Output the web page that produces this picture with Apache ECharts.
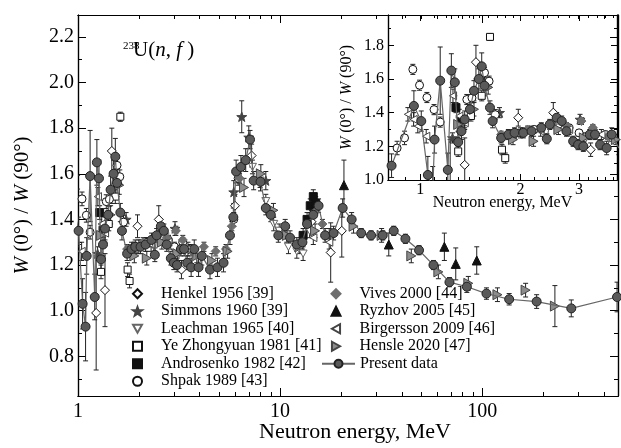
<!DOCTYPE html>
<html lang="en">
<head>
<meta charset="UTF-8" />
<title>238U(n,f) W(0)/W(90)</title>
<script src="https://cdn.jsdelivr.net/npm/echarts@6.0.0/dist/echarts.min.js"></script>
<style>
  html, body { margin: 0; padding: 0; background: #fff; }
  #chart { width: 621px; height: 448px; }
</style>
</head>
<body>
<div id="chart"></div>
<script>
// every row: [neutron energy (MeV), W(0)/W(90), error]
const henkel = [[1.23,0.99,0.25],[1.36,1.09,0.16],[1.47,1.70,0.10],[1.97,1.37,0.05],[2.51,1.40,0.06],[3.25,1.18,0.04],[5.98,1.46,0.05],[7.23,1.68,0.05],[14.3,1.39,0.05],[17.8,1.255,0.13],[20.2,1.35,0.115]]
const simmons = [[1.25,1.25,0.03],[1.73,1.40,0.03],[3.02,1.36,0.03],[5.9,1.52,0.05],[6.46,1.85,0.07],[7.0,1.76,0.05],[8.5,1.57,0.04]]
const leachman = [[7.3,1.63,0.03],[7.96,1.57,0.03],[8.5,1.48,0.03],[9.3,1.38,0.03],[9.9,1.35,0.03],[11.0,1.28,0.03],[12.1,1.26,0.03],[13.0,1.25,0.03],[14.0,1.35,0.03]]
const ye = [[1.30,1.17,0.03],[1.42,1.38,0.03],[1.53,1.50,0.03],[1.62,1.85,0.02],[1.76,1.18,0.03],[1.80,1.13,0.03],[2.0,1.28,0.03]]
const androsenko = [[1.28,1.43,0.03],[1.33,1.35,0.03],[13.0,1.33,0.03],[13.6,1.40,0.03],[14.1,1.46,0.03],[14.6,1.50,0.03],[15.0,1.47,0.03]]
const shpak = [[0.852,1.19,0.04],[0.897,1.25,0.04],[0.95,1.657,0.03],[0.995,1.563,0.03],[1.047,1.49,0.03],[1.10,1.418,0.03],[1.148,1.344,0.03],[1.38,1.478,0.03],[1.43,1.488,0.03],[1.56,1.637,0.03],[1.61,1.587,0.03],[1.68,1.388,0.03],[2.2,1.30,0.02],[2.6,1.33,0.02],[2.8,1.31,0.02],[3.0,1.28,0.02],[3.3,1.30,0.02],[3.6,1.27,0.02],[5.9,1.40,0.03],[6.2,1.58,0.03]]
const vives = [[1.75,1.27,0.02],[2.1,1.30,0.02],[2.5,1.33,0.02],[2.75,1.32,0.02],[3.05,1.35,0.02],[3.3,1.31,0.02],[3.66,1.26,0.02],[4.2,1.28,0.02],[4.8,1.26,0.02],[5.4,1.27,0.02],[5.77,1.37,0.02],[6.3,1.58,0.02],[14.8,1.43,0.02],[16.2,1.38,0.02]]
const ryzhov = [[20.7,1.55,0.11],[34.5,1.29,0.05],[65,1.28,0.06],[74,1.205,0.07],[94,1.22,0.06]]
const birgersson = [[0.918,1.39,0.04],[0.955,1.36,0.04],[0.983,1.32,0.04],[1.042,1.26,0.04],[1.254,1.50,0.04],[1.31,1.38,0.04],[1.36,1.34,0.04],[1.9,1.27,0.03],[2.3,1.29,0.03],[2.8,1.30,0.03],[3.5,1.27,0.03],[14.6,1.32,0.03],[17.5,1.30,0.03]]
const hensle = [[1.3,1.33,0.04],[1.45,1.42,0.04],[1.6,1.55,0.04],[1.9,1.24,0.03],[2.19,1.23,0.03],[2.6,1.30,0.03],[3.1,1.25,0.03],[3.87,1.24,0.03],[4.6,1.22,0.03],[5.5,1.26,0.03],[6.63,1.54,0.04],[8.03,1.60,0.04],[9.27,1.44,0.03],[10.8,1.33,0.03],[12.5,1.28,0.03],[14.9,1.35,0.03],[17.5,1.33,0.03],[23.1,1.37,0.03],[31.8,1.33,0.03],[44.6,1.24,0.03],[60.7,1.17,0.03],[85.4,1.12,0.03],[119,1.07,0.03],[164,1.09,0.03],[229,1.02,0.09]]
const present = [[0.82,1.085,0.07],[0.957,1.44,0.09],[1.007,1.35,0.06],[1.054,1.03,0.11],[1.09,0.93,0.15],[1.104,1.24,0.08],[1.148,1.59,0.20],[1.21,1.06,0.10],[1.24,1.65,0.10],[1.27,1.58,0.08],[1.30,1.225,0.06],[1.33,1.29,0.05],[1.36,1.36,0.05],[1.41,1.42,0.05],[1.45,1.53,0.06],[1.50,1.60,0.06],[1.53,1.675,0.08],[1.56,1.56,0.06],[1.62,1.43,0.04],[1.65,1.35,0.04],[1.75,1.25,0.03],[1.84,1.27,0.03],[1.92,1.28,0.03],[2.04,1.28,0.03],[2.16,1.29,0.03],[2.31,1.31,0.03],[2.40,1.245,0.03],[2.45,1.33,0.03],[2.57,1.37,0.03],[2.66,1.35,0.03],[2.75,1.29,0.03],[2.88,1.23,0.03],[2.98,1.21,0.03],[3.09,1.20,0.03],[3.23,1.27,0.03],[3.35,1.27,0.03],[3.47,1.21,0.03],[3.63,1.19,0.04],[3.76,1.27,0.04],[3.95,1.19,0.04],[4.1,1.24,0.04],[4.5,1.18,0.04],[4.9,1.19,0.04],[5.25,1.21,0.04],[5.65,1.33,0.04],[5.87,1.41,0.04],[6.06,1.61,0.05],[6.4,1.63,0.05],[6.76,1.66,0.05],[7.1,1.75,0.04],[7.4,1.57,0.04],[8.0,1.565,0.04],[8.5,1.45,0.03],[9.0,1.42,0.03],[9.8,1.33,0.03],[10.6,1.37,0.03],[11.2,1.32,0.03],[12.1,1.29,0.03],[12.9,1.30,0.03],[13.6,1.38,0.03],[14.6,1.42,0.03],[15.5,1.46,0.03],[16.7,1.33,0.03],[18.4,1.34,0.03],[20.4,1.45,0.04],[22.6,1.40,0.03],[25.2,1.34,0.02],[28.2,1.33,0.02],[32.2,1.33,0.02],[36.5,1.35,0.02],[41.7,1.315,0.02],[48.7,1.265,0.02],[57.4,1.20,0.02],[68.9,1.125,0.02],[84,1.105,0.025],[105,1.075,0.025],[136,1.05,0.025],[186,1.04,0.03],[276,1.01,0.037],[465,1.06,0.065]]

const legendLeft = ['Henkel 1956 [39]', 'Simmons 1960 [39]', 'Leachman 1965 [40]', 'Ye Zhongyuan 1981 [41]', 'Androsenko 1982 [42]', 'Shpak 1989 [43]']
const legendRight = ['Vives 2000 [44]', 'Ryzhov 2005 [45]', 'Birgersson 2009 [46]', 'Hensle 2020 [47]']
const legendLine = ['Present data']

const xMainMajor = [1, 10, 100]
const xMainMinor = [2, 3, 4, 5, 6, 7, 8, 9, 20, 30, 40, 50, 60, 70, 80, 90, 200, 300, 400]
const yMainMajor = [0.8, 1.0, 1.2, 1.4, 1.6, 1.8, 2.0, 2.2]
const yMainMinor = [0.7, 0.9, 1.1, 1.3, 1.5, 1.7, 1.9, 2.1]
const xInsetMajor = [1, 2, 3]
const xInsetMinor = [0.8, 0.9, 1.1, 1.2, 1.3, 1.4, 1.5, 1.6, 1.7, 1.8, 1.9, 2.2, 2.4, 2.6, 2.8, 3.2, 3.4, 3.6, 3.8]
const yInsetMajor = [1.0, 1.2, 1.4, 1.6, 1.8]
const yInsetMinor = [1.1, 1.3, 1.5, 1.7, 1.9]

const FONT = 'Liberation Serif'
const STAR = 'path://M0,-10L2.35,-3.24L9.51,-3.09L3.8,1.24L5.88,8.09L0,4L-5.88,8.09L-3.8,1.24L-9.51,-3.09L-2.35,-3.24Z'
const TRI_DOWN = 'path://M0,0L10,0L5,9Z'
const TRI_LEFT = 'path://M9,0L9,10L0,5Z'
const TRI_RIGHT = 'path://M0,0L9,5L0,10Z'

const chart = echarts.init(document.getElementById('chart'), null, { renderer: 'canvas' })
const tickLine = { color: '#000', width: 1 }

// four sides of one frame: [bottom/left major, minor, top/right major, minor]
function axesFor(type, grid, min, max, major, minor, longLen, shortLen, positions) {
  const base = {
    type: type, gridIndex: grid, min: min, max: max,
    splitLine: { show: false },
    axisLine: { show: true, lineStyle: { color: '#000', width: 1.2 } },
    axisLabel: { show: false }
  }
  if (type === 'log') base.logBase = 10
  const list = []
  positions.forEach(function (pos) {
    list.push(Object.assign({}, base, { position: pos, axisTick: { show: true, inside: true, length: longLen, customValues: major, lineStyle: tickLine } }))
    list.push(Object.assign({}, base, { position: pos, axisTick: { show: true, inside: true, length: shortLen, customValues: minor, lineStyle: tickLine } }))
  })
  return list
}

const xMain = axesFor('log', 0, 1, 470, xMainMajor, xMainMinor, 8, 4, ['bottom', 'top'])
Object.assign(xMain[0], {
  axisLabel: { show: true, customValues: xMainMajor, margin: 6, color: '#000', fontFamily: FONT, fontSize: 20, formatter: function (v) { return String(v) } },
  name: 'Neutron energy, MeV', nameLocation: 'middle', nameGap: 25, nameMoveOverlap: false,
  nameTextStyle: { color: '#000', fontFamily: FONT, fontSize: 22, padding: [0, 0, 0, 14] }
})
const yMain = axesFor('value', 0, 0.626, 2.296, yMainMajor, yMainMinor, 8, 4, ['left', 'right'])
Object.assign(yMain[0], {
  axisLabel: { show: true, customValues: yMainMajor, margin: 4, color: '#000', fontFamily: FONT, fontSize: 20, formatter: function (v) { return v.toFixed(1) } },
  name: '{i|W} (0°) / {i|W} (90°)', nameLocation: 'middle', nameGap: 45, nameMoveOverlap: false,
  nameTextStyle: { color: '#000', fontFamily: FONT, fontSize: 21, rich: { i: { fontStyle: 'italic', fontFamily: FONT, fontSize: 21, color: '#000' } } }
})
const xInset = axesFor('log', 1, 0.8, 3.9, xInsetMajor, xInsetMinor, 6, 3, ['bottom', 'top'])
Object.assign(xInset[0], {
  axisLabel: { show: true, customValues: xInsetMajor, margin: 2, color: '#000', fontFamily: FONT, fontSize: 16, formatter: function (v) { return String(v) } },
  name: 'Neutron energy, MeV', nameLocation: 'middle', nameGap: 15, nameMoveOverlap: false,
  nameTextStyle: { color: '#000', fontFamily: FONT, fontSize: 16 }
})
const yInset = axesFor('value', 1, 1.0, 1.98, yInsetMajor, yInsetMinor, 6, 3, ['left', 'right'])
Object.assign(yInset[0], {
  axisLabel: { show: true, customValues: yInsetMajor, margin: 4, color: '#000', fontFamily: FONT, fontSize: 16, formatter: function (v) { return v.toFixed(1) } },
  name: '{i|W} (0°) / {i|W} (90°)', nameLocation: 'middle', nameGap: 33, nameMoveOverlap: false,
  nameTextStyle: { color: '#000', fontFamily: FONT, fontSize: 16, rich: { i: { fontStyle: 'italic', fontFamily: FONT, fontSize: 16, color: '#000' } } }
})

function renderErr(params, api) {
  const x = api.value(0), y = api.value(1), e = api.value(2)
  const lo = api.coord([x, y - e])
  const hi = api.coord([x, y + e])
  const c = 2.5
  const st = { stroke: '#222', lineWidth: 1 }
  return {
    type: 'group',
    children: [
      { type: 'line', shape: { x1: lo[0], y1: lo[1], x2: hi[0], y2: hi[1] }, style: st },
      { type: 'line', shape: { x1: lo[0] - c, y1: lo[1], x2: lo[0] + c, y2: lo[1] }, style: st },
      { type: 'line', shape: { x1: hi[0] - c, y1: hi[1], x2: hi[0] + c, y2: hi[1] }, style: st }
    ]
  }
}

// name, data, symbol, size, fill, border
const sets = [
  [legendLeft[0], henkel, 'diamond', 9, '#fff', '#111'],
  [legendLeft[1], simmons, STAR, 10, '#444', '#444'],
  [legendLeft[2], leachman, TRI_DOWN, 8, '#fff', '#666'],
  [legendLeft[3], ye, 'rect', 7, '#fff', '#111'],
  [legendLeft[4], androsenko, 'rect', 8, '#111', '#111'],
  [legendLeft[5], shpak, 'circle', 8, '#fff', '#111'],
  [legendRight[0], vives, 'diamond', 9, '#6e6e6e', '#6e6e6e'],
  [legendRight[1], ryzhov, 'triangle', 9, '#111', '#111'],
  [legendRight[2], birgersson, TRI_LEFT, 8, '#fff', '#444'],
  [legendRight[3], hensle, TRI_RIGHT, 10, '#8c8c8c', '#444']
]

const series = []
;[[0, 0], [4, 4]].forEach(function (ax) {
  sets.concat([['Present data', present]]).forEach(function (s) {
    series.push({
      name: 'err', type: 'custom', xAxisIndex: ax[0], yAxisIndex: ax[1], clip: true, z: 2,
      dimensions: ['x', 'y', 'e'], encode: { x: 0, y: 1 }, data: s[1], renderItem: renderErr
    })
  })
  sets.forEach(function (s) {
    series.push({
      name: s[0], type: 'scatter', xAxisIndex: ax[0], yAxisIndex: ax[1], z: 3,
      data: s[1].map(function (r) { return [r[0], r[1]] }),
      symbol: s[2], symbolSize: s[3], symbolKeepAspect: true,
      itemStyle: { color: s[4], borderColor: s[5], borderWidth: 1, opacity: 1 }
    })
  })
  series.push({
    name: 'Present data', type: 'line', xAxisIndex: ax[0], yAxisIndex: ax[1], z: 4,
    data: present.map(function (r) { return [r[0], r[1]] }),
    symbol: 'circle', symbolSize: 9, showAllSymbol: true,
    lineStyle: { color: '#666', width: 1.2 },
    itemStyle: { color: '#5a5a5a', borderColor: '#222', borderWidth: 1 }
  })
})

const legendBase = {
  orient: 'vertical', top: 285, padding: 0, itemGap: 0, itemWidth: 9, itemHeight: 9,
  selectedMode: false,
  textStyle: { color: '#000', fontFamily: FONT, fontSize: 16, lineHeight: 17.5, padding: [0, 0, 0, 14] }
}

chart.setOption({
  animation: false,
  backgroundColor: '#fff',
  grid: [
    { left: 78, top: 15, width: 540, height: 381, outerBoundsMode: 'none' },
    { left: 388, top: 15, width: 229, height: 165, show: true, backgroundColor: '#fff', borderWidth: 0, outerBoundsMode: 'none' }
  ],
  xAxis: xMain.concat(xInset),
  yAxis: yMain.concat(yInset),
  legend: [
    Object.assign({}, legendBase, { left: 132, data: legendLeft }),
    Object.assign({}, legendBase, { left: 330.5, data: legendRight }),
    Object.assign({}, legendBase, { left: 321, top: 285 + 4 * 17.5, itemWidth: 33, itemHeight: 10, data: legendLine,
      textStyle: Object.assign({}, legendBase.textStyle, { padding: 0 }) })
  ],
  graphic: [
    { type: 'text', left: 123, top: 41, style: { text: '238', font: '11px "Liberation Serif"', fill: '#000' } },
    { type: 'text', left: 133, top: 40, style: { text: 'U({i|n}, {i|f} )', font: '21px "Liberation Serif"', fill: '#000',
      rich: { i: { fontStyle: 'italic', fontFamily: FONT, fontSize: 21, fill: '#000' } } } }
  ],
  series: series
})
</script>
</body>
</html>
